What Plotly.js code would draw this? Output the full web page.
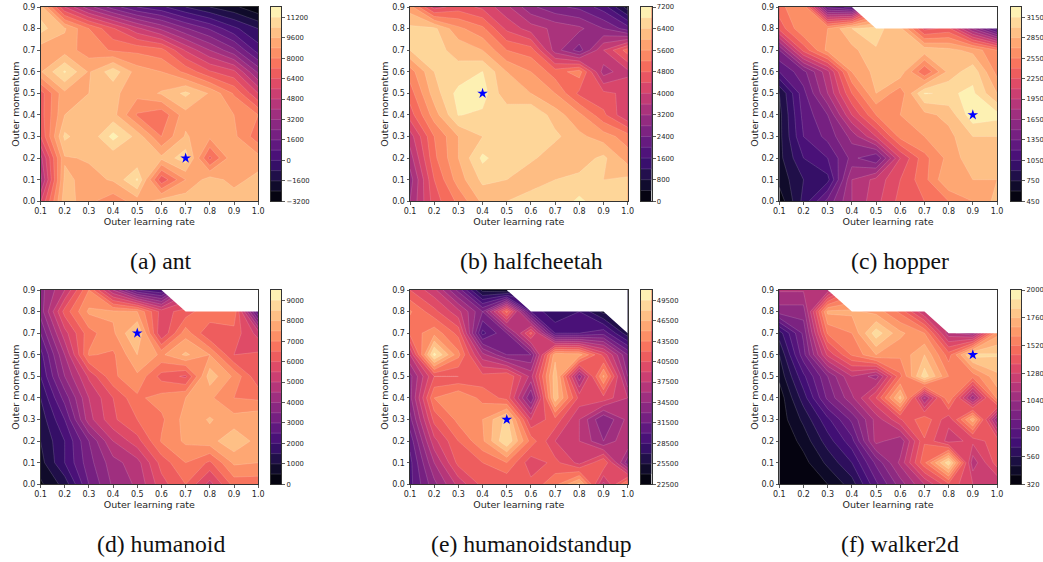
<!DOCTYPE html>
<html>
<head>
<meta charset="utf-8">
<script src="https://cdn.plot.ly/plotly-3.0.1.min.js"></script>
<style>html,body{margin:0;padding:0;background:#fff;overflow:hidden}</style>
</head>
<body>
<div id="chart" style="width:1043px;height:562px"></div>
<script>
var learningRates = [0.1,0.2,0.3,0.4,0.5,0.6,0.7,0.8,0.9,1.0];
var momenta = [0.0,0.1,0.2,0.3,0.4,0.5,0.6,0.7,0.8,0.9];
var axisTicks = [0.1,0.2,0.3,0.4,0.5,0.6,0.7,0.8,0.9,1.0];
var yTicks = [0.0,0.1,0.2,0.3,0.4,0.5,0.6,0.7,0.8,0.9];

// rows run from momentum 0.0 up to 0.9
var antZ = [
 [5500,10100,9000,8300,9200,10000,10100,10000,10100,10000],
 [3700,9800,9300,9700,11300,6600,8800,10000,9300,9900],
 [4500,9500,9700,9800,9700,9800,10900,7000,9500,9100],
 [6400,10600,9700,11500,10100,8000,9700,9000,9000,7500],
 [6800,9600,9900,9900,7900,7400,9300,9000,8800,8000],
 [6800,9400,9600,9800,9100,9700,10600,9500,7900,5600],
 [9500,11300,9500,10900,9200,8800,7800,6500,5800,3000],
 [9200,9200,8400,7900,7800,7500,5500,4000,2600,400],
 [10700,9700,8000,6500,5000,3800,2500,1500,200,-800],
 [10000,5600,3500,2000,800,200,-800,-1600,-2200,-3100]
];
var halfcheetahZ = [
 [3200,4600,5300,6100,6400,6800,6500,6900,6500,6500],
 [3000,4800,5800,6500,6400,6000,6400,6500,6400,6500],
 [3400,5100,6000,6900,6500,6500,6100,6200,6500,5800],
 [3800,5200,6000,6400,6600,6600,6500,6100,5800,5400],
 [4600,5800,6820,6720,6700,6800,6200,5700,4900,4000],
 [5000,6200,6950,7000,6100,6000,5600,4700,4500,4300],
 [5400,6400,6500,6810,6000,5600,5000,5400,3400,3900],
 [6400,6500,6300,6000,5200,5000,3400,2600,4000,5000],
 [6500,6500,5700,5300,4300,3800,3500,3300,2800,2200],
 [5800,4200,4600,4300,3700,2900,2500,2300,1800,600]
];
var hopperZ = [
 [500,950,1400,1800,2050,2300,2400,2550,2700,2900],
 [650,900,1000,1800,2000,2250,2500,2850,2850,2850],
 [700,1050,1200,1550,1350,2100,2500,2750,2950,2900],
 [700,1200,1400,1700,2100,2600,2700,2800,3000,3000],
 [700,1250,1500,2100,2550,2700,2800,2900,3250,3200],
 [750,1300,1800,2400,2850,2600,3160,3130,3180,2850],
 [1200,1450,1900,2700,2900,2950,2400,2900,3100,2650],
 [1500,2300,2750,2800,2990,2900,2950,2900,2800,2550],
 [2300,2700,2700,3000,3050,2900,2200,2300,1650,1100],
 [2500,2700,1300,1150,null,null,null,null,null,null]
];
var humanoidZ = [
 [400,1200,3000,4100,4600,5800,6500,5300,6700,6700],
 [800,2000,3300,4300,4800,6200,7000,6400,7600,7500],
 [1000,2000,3500,5000,5800,7050,7600,7800,8400,7800],
 [1200,2500,4800,5900,6500,6900,7700,8050,7700,7900],
 [1500,3200,5000,6000,6900,7200,7500,7600,7000,6900],
 [2000,4000,5600,6900,7400,6300,5900,8300,7400,6100],
 [2300,4500,7050,6900,8000,7400,8100,7500,6000,6100],
 [3000,5300,6800,7400,8600,5500,7300,6000,6300,5300],
 [3700,6200,7600,7600,7500,5800,6200,7000,6900,2500],
 [3800,5000,7000,4500,2500,2000,null,null,null,null]
];
var standupZ = [
 [29500,34000,38000,41000,40500,41000,43000,47000,37000,44000],
 [29500,36000,41000,42000,43500,39500,41000,38500,42000,33500],
 [30500,38500,42000,44700,49500,42900,39000,37500,34500,37500],
 [32500,41000,44000,45000,48500,39000,41500,37500,33000,36500],
 [34000,43500,45000,43000,41500,33000,47500,40000,40000,37500],
 [34000,40500,40500,41000,42000,37000,47500,35000,45300,34500],
 [37500,50000,44000,36500,33000,33000,46000,45700,40000,33000],
 [42500,44500,41500,29500,33000,41000,30000,30000,31000,26000],
 [43700,41000,38000,33000,42500,30000,27000,28500,25000,null],
 [40500,38000,32500,25000,24000,null,null,null,null,null]
];
var walkerZ = [
 [320,330,400,520,780,1000,1200,1420,1280,1200],
 [320,370,500,640,900,1140,1500,1900,1150,1400],
 [320,430,600,770,1150,1060,1430,1250,1300,1420],
 [350,500,700,900,1150,1350,1500,1300,1730,1050],
 [350,600,900,1100,1360,1790,1100,1600,1060,1620],
 [420,700,960,1200,1080,1500,1890,1600,1550,1740],
 [480,850,1300,1530,1680,1620,1760,1480,1880,1850],
 [600,900,1530,1600,1890,1700,1600,1150,1050,1650],
 [1000,1000,1700,1700,1650,1500,1200,null,null,null],
 [1130,1130,1150,null,null,null,null,null,null,null]
];
var antBest = [0.7,0.2], halfcheetahBest = [0.4,0.5], hopperBest = [0.9,0.4],
    humanoidBest = [0.5,0.7], standupBest = [0.5,0.3], walkerBest = [0.9,0.6];
var captions = ['(a) ant','(b) halfcheetah','(c) hopper','(d) humanoid','(e) humanoidstandup','(f) walker2d'];
var antTicks = [-3200,-1600,0,1600,3200,4800,6400,8000,9600,11200];
var halfcheetahTicks = [0,800,1600,2400,3200,4000,4800,5600,6400,7200];
var hopperTicks = [450,750,1050,1350,1650,1950,2250,2550,2850,3150];
var humanoidTicks = [0,1000,2000,3000,4000,5000,6000,7000,8000,9000];
var standupTicks = [22500,25500,28500,31500,34500,37500,40500,43500,46500,49500];
var walkerTicks = [320,560,800,1040,1280,1520,1760,2000];

var magmaPos = [0,0.1,0.111,0.2,0.222,0.3,0.333,0.4,0.444,0.5,0.556,0.6,0.667,0.7,0.778,0.8,0.889,0.9,1];
var magmaRgb = [[0,0,4],[20,14,54],[24,15,61],[59,15,112],[68,15,118],[100,26,128],[114,31,129],[140,41,129],
                [158,47,127],[182,54,121],[205,64,113],[222,73,104],[241,96,93],[247,111,92],[253,150,104],
                [254,159,109],[254,202,141],[254,206,145],[252,253,191]];
function magmaAt(u){
  var i = 0;
  while (i < magmaPos.length - 2 && u > magmaPos[i + 1]) i++;
  var t = (u - magmaPos[i]) / (magmaPos[i + 1] - magmaPos[i]);
  var c = magmaRgb[i].map(function(a, j){ return Math.round(a + t * (magmaRgb[i + 1][j] - a)); });
  return 'rgb(' + c.join(',') + ')';
}
// one colour per filled band, taken at the middle of that band's share of the map
function bandScale(n){
  var s = [];
  for (var k = 0; k < n; k++) s.push([k / (n - 1), magmaAt((k + 0.5) / n)]);
  return s;
}

var W = 1043, H = 562;
var colLeft = [40.5,410,779.3], colWidth = 217.7, cbLeft = [270.7,641,1010.7], cbThick = 10.5;
var rowTop = [7,290], rowHeight = 194.3;
var capCenter = [161,531,900], capY = [261,544];

var panels = [
 {z:antZ, best:antBest, low:-3200, high:12000, size:800, ticks:antTicks},
 {z:halfcheetahZ, best:halfcheetahBest, low:0, high:7200, size:400, ticks:halfcheetahTicks},
 {z:hopperZ, best:hopperBest, low:450, high:3300, size:150, ticks:hopperTicks},
 {z:humanoidZ, best:humanoidBest, low:0, high:9500, size:500, ticks:humanoidTicks},
 {z:standupZ, best:standupBest, low:22500, high:51000, size:1500, ticks:standupTicks},
 {z:walkerZ, best:walkerBest, low:320, high:2000, size:80, ticks:walkerTicks}
];

// White area over the unevaluated grid cells, derived from where the rows stop holding values.
function maskOutline(z){
  var xs = [], ys = [], prev = -1;
  for (var r = z.length - 1; r >= 0; r--) {
    var last = z[r].length - 1;
    while (last >= 0 && z[r][last] === null) last--;
    if (prev >= 0 && last > prev) { xs.push(learningRates[prev + 1]); ys.push(momenta[r]); }
    if (prev < 0 || last > prev) { xs.push(learningRates[last]); ys.push(momenta[r]); }
    prev = Math.max(prev, last);
    if (last === z[r].length - 1) break;
  }
  xs.push(learningRates[learningRates.length - 1]); ys.push(momenta[momenta.length - 1]);
  xs.push(xs[0]); ys.push(ys[0]);
  return {x: xs, y: ys};
}

var traces = [];
var layout = {
  width: W, height: H, showlegend: false, paper_bgcolor: '#fff', plot_bgcolor: '#fff',
  margin: {l: 0, r: 0, t: 0, b: 0, autoexpand: false},
  font: {family: 'DejaVu Sans', color: '#262626', size: 8},
  annotations: []
};
var tickFont = {family: 'DejaVu Sans', size: 8, color: '#262626'};
var titleFont = {family: 'DejaVu Sans', size: 9.5, color: '#262626'};

panels.forEach(function(p, i){
  var col = i % 3, row = Math.floor(i / 3), n = i === 0 ? '' : String(i + 1);
  var xa = 'x' + n, ya = 'y' + n;
  var cbn = String(i + 7);
  var top = rowTop[row], bottom = top + rowHeight;
  var bands = Math.round((p.high - p.low) / p.size);
  var contourStyle = {
    type: 'contour', autocontour: false, connectgaps: true, showscale: false,
    contours: {start: p.low + p.size, end: p.high - p.size, size: p.size, coloring: 'fill', showlines: true},
    line: {color: 'rgba(255,255,255,0.3)', width: 0.5, smoothing: 0},
    colorscale: bandScale(bands), hoverinfo: 'skip'
  };
  traces.push(Object.assign({x: learningRates, y: momenta, z: p.z, xaxis: xa, yaxis: ya}, contourStyle));
  if (p.z.some(function(r){ return r.indexOf(null) >= 0; })) {
    var m = maskOutline(p.z);
    traces.push({type: 'scatter', mode: 'lines', x: m.x, y: m.y, xaxis: xa, yaxis: ya,
      fill: 'toself', fillcolor: '#ffffff', line: {width: 0, color: '#ffffff'}, hoverinfo: 'skip'});
  }
  traces.push({type: 'scatter', mode: 'markers', x: [p.best[0]], y: [p.best[1]], xaxis: xa, yaxis: ya,
    marker: {symbol: 'star', size: 8, color: '#0000ff', line: {width: 0}}, hoverinfo: 'skip'});
  // colour bar: the same contour levels drawn over the value range on its own axes
  traces.push(Object.assign({x: [0, 1], y: [p.low, p.high], z: [[p.low, p.low], [p.high, p.high]],
    xaxis: 'x' + cbn, yaxis: 'y' + cbn}, contourStyle));

  layout['xaxis' + n] = {
    domain: [colLeft[col] / W, (colLeft[col] + colWidth) / W], range: [0.1, 1.0], anchor: ya,
    tickmode: 'array', tickvals: axisTicks, ticktext: axisTicks.map(function(v){ return v.toFixed(1); }),
    ticks: 'outside', ticklen: 2.5, tickwidth: 0.8, tickcolor: '#333', tickfont: tickFont,
    showgrid: false, zeroline: false, showline: true, mirror: true, linecolor: '#333', linewidth: 1,
    title: {text: 'Outer learning rate', font: titleFont, standoff: 0}
  };
  layout['yaxis' + n] = {
    domain: [1 - bottom / H, 1 - top / H], range: [0.0, 0.9], anchor: xa,
    tickmode: 'array', tickvals: yTicks, ticktext: yTicks.map(function(v){ return v.toFixed(1); }),
    ticks: 'outside', ticklen: 2.5, tickwidth: 0.8, tickcolor: '#333', tickfont: tickFont,
    showgrid: false, zeroline: false, showline: true, mirror: true, linecolor: '#333', linewidth: 1,
    title: {text: 'Outer momentum', font: titleFont, standoff: 1}
  };
  layout['xaxis' + cbn] = {
    domain: [cbLeft[col] / W, (cbLeft[col] + cbThick) / W], range: [0, 1], anchor: 'y' + cbn,
    showticklabels: false, ticks: '', showgrid: false, zeroline: false,
    showline: true, mirror: true, linecolor: '#333', linewidth: 1
  };
  layout['yaxis' + cbn] = {
    domain: [1 - bottom / H, 1 - top / H], range: [p.low, p.high], anchor: 'x' + cbn, side: 'right',
    tickmode: 'array', tickvals: p.ticks,
    ticktext: p.ticks.map(function(v){ return v < 0 ? '\u2212' + (-v) : String(v); }),
    ticks: 'outside', ticklen: 3, tickwidth: 0.8, tickcolor: '#333',
    tickfont: {family: 'DejaVu Sans', size: 6.8, color: '#262626'},
    showgrid: false, zeroline: false, showline: true, mirror: true, linecolor: '#333', linewidth: 1
  };
  layout.annotations.push({
    xref: 'paper', yref: 'paper', x: capCenter[col] / W, y: 1 - capY[row] / H,
    xanchor: 'center', yanchor: 'middle', showarrow: false, text: captions[i],
    font: {family: 'Liberation Serif', size: 23.7, color: '#111'}
  });
});
Plotly.newPlot('chart', traces, layout, {staticPlot: true, displayModeBar: false});
</script>
</body>
</html>
